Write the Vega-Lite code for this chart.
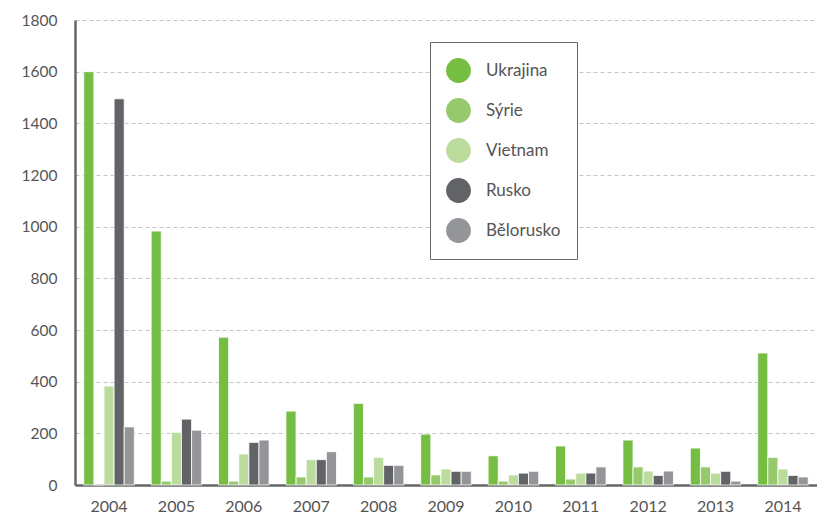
{
  "$schema": "https://vega.github.io/schema/vega-lite/v6.json",
  "autosize": {"type": "none"},
  "padding": {"left": 75, "top": 20, "right": 0, "bottom": 31},
  "width": 742,
  "height": 465,
  "background": "white",
  "config": {
    "view": {"stroke": null},
    "font": "Lato",
    "axis": {"labelFont": "Lato", "labelColor": "#555555", "labelFontSize": 15.5, "titleFont": "Lato"},
    "legend": {"labelFont": "Lato"}
  },
  "data": {
    "values": [
      {"year": "2004", "country": "Ukrajina", "value": 1600},
      {"year": "2004", "country": "Sýrie", "value": 0},
      {"year": "2004", "country": "Vietnam", "value": 383},
      {"year": "2004", "country": "Rusko", "value": 1495},
      {"year": "2004", "country": "Bělorusko", "value": 225},
      {"year": "2005", "country": "Ukrajina", "value": 983},
      {"year": "2005", "country": "Sýrie", "value": 15},
      {"year": "2005", "country": "Vietnam", "value": 204},
      {"year": "2005", "country": "Rusko", "value": 255},
      {"year": "2005", "country": "Bělorusko", "value": 212},
      {"year": "2006", "country": "Ukrajina", "value": 572},
      {"year": "2006", "country": "Sýrie", "value": 15},
      {"year": "2006", "country": "Vietnam", "value": 120},
      {"year": "2006", "country": "Rusko", "value": 165},
      {"year": "2006", "country": "Bělorusko", "value": 174},
      {"year": "2007", "country": "Ukrajina", "value": 286},
      {"year": "2007", "country": "Sýrie", "value": 31},
      {"year": "2007", "country": "Vietnam", "value": 98},
      {"year": "2007", "country": "Rusko", "value": 98},
      {"year": "2007", "country": "Bělorusko", "value": 129},
      {"year": "2008", "country": "Ukrajina", "value": 316},
      {"year": "2008", "country": "Sýrie", "value": 31},
      {"year": "2008", "country": "Vietnam", "value": 107},
      {"year": "2008", "country": "Rusko", "value": 76},
      {"year": "2008", "country": "Bělorusko", "value": 76},
      {"year": "2009", "country": "Ukrajina", "value": 197},
      {"year": "2009", "country": "Sýrie", "value": 39},
      {"year": "2009", "country": "Vietnam", "value": 62},
      {"year": "2009", "country": "Rusko", "value": 53},
      {"year": "2009", "country": "Bělorusko", "value": 53},
      {"year": "2010", "country": "Ukrajina", "value": 113},
      {"year": "2010", "country": "Sýrie", "value": 15},
      {"year": "2010", "country": "Vietnam", "value": 39},
      {"year": "2010", "country": "Rusko", "value": 46},
      {"year": "2010", "country": "Bělorusko", "value": 53},
      {"year": "2011", "country": "Ukrajina", "value": 151},
      {"year": "2011", "country": "Sýrie", "value": 23},
      {"year": "2011", "country": "Vietnam", "value": 46},
      {"year": "2011", "country": "Rusko", "value": 46},
      {"year": "2011", "country": "Bělorusko", "value": 70},
      {"year": "2012", "country": "Ukrajina", "value": 174},
      {"year": "2012", "country": "Sýrie", "value": 70},
      {"year": "2012", "country": "Vietnam", "value": 54},
      {"year": "2012", "country": "Rusko", "value": 37},
      {"year": "2012", "country": "Bělorusko", "value": 54},
      {"year": "2013", "country": "Ukrajina", "value": 143},
      {"year": "2013", "country": "Sýrie", "value": 70},
      {"year": "2013", "country": "Vietnam", "value": 46},
      {"year": "2013", "country": "Rusko", "value": 53},
      {"year": "2013", "country": "Bělorusko", "value": 15},
      {"year": "2014", "country": "Ukrajina", "value": 511},
      {"year": "2014", "country": "Sýrie", "value": 107},
      {"year": "2014", "country": "Vietnam", "value": 62},
      {"year": "2014", "country": "Rusko", "value": 37},
      {"year": "2014", "country": "Bělorusko", "value": 31}
    ]
  },
  "mark": {"type": "bar", "stroke": "white", "strokeWidth": 0.8},
  "encoding": {
    "x": {
      "field": "year",
      "type": "nominal",
      "scale": {"paddingInner": 0.25, "paddingOuter": 0.13},
      "axis": {
        "title": null,
        "labelAngle": 0,
        "ticks": false,
        "domainColor": "#666666",
        "domainWidth": 2.5,
        "labelPadding": 13,
        "labelFontSize": 16
      }
    },
    "xOffset": {
      "field": "country",
      "type": "nominal",
      "sort": ["Ukrajina", "Sýrie", "Vietnam", "Rusko", "Bělorusko"],
      "scale": {"paddingInner": 0, "paddingOuter": 0}
    },
    "y": {
      "field": "value",
      "type": "quantitative",
      "scale": {"domain": [0, 1800], "nice": false},
      "axis": {
        "title": null,
        "format": "d",
        "values": [0, 200, 400, 600, 800, 1000, 1200, 1400, 1600, 1800],
        "ticks": false,
        "domainColor": "#666666",
        "domainWidth": 2.5,
        "labelPadding": 18,
        "grid": true,
        "gridColor": "#c4c4c4",
        "gridDash": [4, 3],
        "gridWidth": 1
      }
    },
    "color": {
      "field": "country",
      "type": "nominal",
      "scale": {
        "domain": ["Ukrajina", "Sýrie", "Vietnam", "Rusko", "Bělorusko"],
        "range": ["#76bd43", "#95c96c", "#bcdc9e", "#626366", "#949598"]
      },
      "legend": {
        "title": null,
        "orient": "none",
        "legendX": 355,
        "legendY": 22,
        "padding": 16,
        "strokeColor": "#666666",
        "fillColor": "white",
        "symbolType": "circle",
        "symbolSize": 615,
        "symbolStrokeWidth": 0,
        "rowPadding": 15,
        "labelOffset": 15,
        "labelFontSize": 17,
        "labelColor": "#555555",
        "symbolOpacity": 1
      }
    }
  }
}
